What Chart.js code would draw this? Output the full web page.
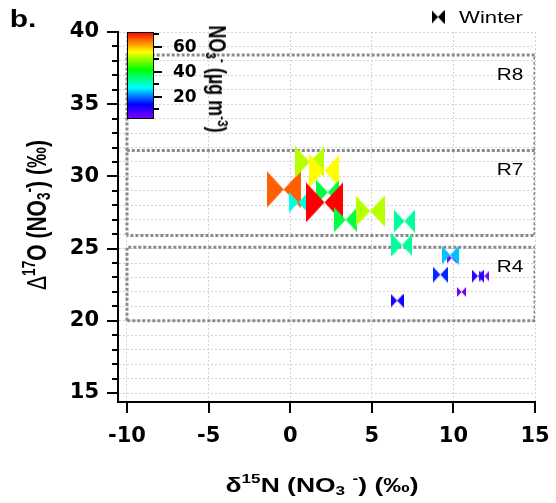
<!DOCTYPE html>
<html><head><meta charset="utf-8">
<script src="https://cdn.jsdelivr.net/npm/chart.js@4"></script>
<style>
html,body{margin:0;padding:0;background:#fff;}
#wrap{position:relative;width:556px;height:503px;overflow:hidden;}
#c{position:absolute;left:0;top:0;}
.t{position:absolute;font-family:"Liberation Sans",Arial,sans-serif;color:#000;white-space:nowrap;line-height:1;}
.b{font-weight:bold;}
sup,sub{font-size:65%;line-height:0;}
sup{vertical-align:0.6em;}
sub{vertical-align:-0.25em;}
</style></head><body>
<div id="wrap">
<canvas id="c" width="556" height="503"></canvas>
<div class="t b" style="left:23px;top:19px;font-size:24px;transform:translate(-50%,-50%) scaleX(1.25);">b.</div>
<div class="t" style="left:491px;top:17px;font-size:17px;transform:translate(-50%,-50%) scaleX(1.3);">Winter</div>
<div class="t b" style="left:322px;top:484px;font-size:21px;transform:translate(-50%,-50%) scaleX(1.26);">δ<sup>15</sup>N (NO<sub>3</sub> <sup>-</sup>) (‰)</div>
<div class="t b" style="left:36px;top:215px;font-size:21px;transform:translate(-50%,-50%) scaleX(1.28) rotate(-90deg);"><span style="font-weight:normal">Δ</span><sup>17</sup>O (NO<sub>3</sub><sup>-</sup>) (‰)</div>
<div class="t b" style="left:217px;top:79px;font-size:18px;transform:translate(-50%,-50%) scaleX(1.3) rotate(90deg);">NO<sub>3</sub><sup>-</sup> (µg m<sup>-3</sup>)</div>
<div class="t" id="r0" style="font-size:16px;transform:translate(-50%,-50%) scaleX(1.3);">R8</div>
<div class="t" id="r1" style="font-size:16px;transform:translate(-50%,-50%) scaleX(1.3);">R7</div>
<div class="t" id="r2" style="font-size:16px;transform:translate(-50%,-50%) scaleX(1.3);">R4</div>
</div>
<script>
// ---- data ----
const d15N = [-0.4, 0.5, 1.2, 2.1, 2.3, 2.1, 3.4, 4.9, 7.0, 6.85, 9.9, 9.8, 9.2, 11.9, 11.5, 10.5, 6.55];
const D17O = [29.1, 28.2, 31.0, 30.4, 28.9, 28.2, 27.0, 27.6, 26.9, 25.25, 24.35, 24.55, 23.2, 23.1, 23.1, 22.0, 21.4];
const NO3  = [66, 29, 52, 56, 38, 72, 38, 52, 33, 33, 4, 24, 16, 4, 10, 3, 12];
const xTicks = [-10, -5, 0, 5, 10, 15];
const yMajorTicks = [15, 20, 25, 30, 35, 40];
const cbarTicks = [20, 40, 60];
const cbarMinorTicks = [10, 30, 50, 70];
const regionNames = ['R8', 'R7', 'R4'];
const regionLow  = [31.8, 25.9, 20.0];
const regionHigh = [38.4, 31.8, 25.1];
const regionX = [-10, 15];
const seriesName = 'Winter';
const cMin = 2, cMax = 72;
const colorStops = [[0,[128,0,255]],[0.17,[0,0,255]],[0.36,[0,255,255]],[0.57,[0,255,0]],[0.77,[255,255,0]],[1,[255,0,0]]];

// ---- helpers ----
function cmap(v){
  let f = (v - cMin) / (cMax - cMin); f = Math.max(0, Math.min(1, f));
  for (let i = 1; i < colorStops.length; i++) {
    if (f <= colorStops[i][0]) {
      const a = colorStops[i-1], b = colorStops[i];
      const t = (f - a[0]) / (b[0] - a[0]);
      const c = a[1].map((x, k) => Math.round(x + (b[1][k] - x) * t));
      return 'rgb(' + c.join(',') + ')';
    }
  }
  return 'rgb(255,0,0)';
}
function bowtie(color, h){
  const w = Math.max(6, Math.round(h * 0.92));
  const cv = document.createElement('canvas');
  cv.width = w; cv.height = h;
  const g = cv.getContext('2d');
  g.fillStyle = color;
  g.beginPath();
  g.moveTo(0, 0); g.lineTo(w / 2, h / 2); g.lineTo(0, h); g.closePath();
  g.moveTo(w, 0); g.lineTo(w / 2, h / 2); g.lineTo(w, h); g.closePath();
  g.fill();
  return cv;
}
function markerSize(v){ return Math.round(9 + 0.43 * v); }

const pts = d15N.map((x, i) => ({x: x, y: D17O[i], c: NO3[i]}));
const markerStyles = pts.map(p => bowtie(cmap(p.c), markerSize(p.c)));

const regionSets = regionNames.map((n, i) => {
  const lo = regionLow[i], hi = regionHigh[i];
  const shared = regionHigh.some((h, j) => j !== i && Math.abs(h - lo) < 1e-9);
  const data = [{x: regionX[0], y: lo}, {x: regionX[0], y: hi}, {x: regionX[1], y: hi}, {x: regionX[1], y: lo}];
  if (!shared) data.push({x: regionX[0], y: lo});
  return {
    label: n, data: data,
    showLine: true, borderColor: '#8a8a8a', borderWidth: 3, borderDash: [3, 2],
    pointRadius: 0, fill: false, tension: 0
  };
});

const Y_AXIS_PX = 118, X_AXIS_PX = 402, RIGHT_PAD = 21;

const extras = {
  id: 'extras',
  afterDraw(chart){
    const ctx = chart.ctx, xs = chart.scales.x, ys = chart.scales.y;
    ctx.save();
    ctx.strokeStyle = '#000'; ctx.lineWidth = 2;
    for (let v = 15; v <= 40; v++) {
      const py = Math.round(ys.getPixelForValue(v));
      const len = yMajorTicks.includes(v) ? 11 : 6;
      ctx.beginPath(); ctx.moveTo(ys.right, py); ctx.lineTo(ys.right - len, py); ctx.stroke();
    }
    xTicks.forEach(v => {
      const px = Math.round(xs.getPixelForValue(v));
      ctx.beginPath(); ctx.moveTo(px, xs.top); ctx.lineTo(px, xs.top + 11); ctx.stroke();
    });
    const x0 = 127, x1 = 154, y0 = 32, y1 = 119;
    const grad = ctx.createLinearGradient(0, y1, 0, y0);
    colorStops.forEach(s => grad.addColorStop(s[0], 'rgb(' + s[1].join(',') + ')'));
    ctx.fillStyle = grad; ctx.fillRect(x0, y0, x1 - x0, y1 - y0);
    ctx.lineWidth = 1; ctx.strokeStyle = '#000';
    ctx.strokeRect(x0 + 0.5, y0 + 0.5, x1 - x0 - 1, y1 - y0 - 1);
    const cy = v => y1 - (v - cMin) / (cMax - cMin) * (y1 - y0);
    ctx.lineWidth = 2;
    ctx.font = 'bold 17px "DejaVu Sans"'; ctx.fillStyle = '#000'; ctx.textBaseline = 'middle'; ctx.textAlign = 'left';
    cbarTicks.forEach(v => {
      const py = Math.round(cy(v));
      ctx.beginPath(); ctx.moveTo(x1, py); ctx.lineTo(x1 + 8, py); ctx.stroke();
      ctx.fillText(String(v), x1 + 19, py + 1);
    });
    cbarMinorTicks.forEach(v => {
      const py = Math.round(cy(v));
      ctx.beginPath(); ctx.moveTo(x1, py); ctx.lineTo(x1 + 5, py); ctx.stroke();
    });
    const lm = bowtie('#000', 14);
    ctx.drawImage(lm, 438 - lm.width / 2, 17 - lm.height / 2);
    ctx.restore();
    regionNames.forEach((n, i) => {
      const el = document.getElementById('r' + i);
      const top = ys.getPixelForValue(regionHigh[i]);
      el.style.left = '510px';
      el.style.top = (top + 20) + 'px';
    });
  }
};

new Chart(document.getElementById('c'), {
  type: 'scatter',
  data: {
    datasets: [{
      label: seriesName,
      data: pts,
      pointStyle: markerStyles,
      pointRadius: 10,
      showLine: false
    }].concat(regionSets)
  },
  options: {
    responsive: false, animation: false, events: [],
    layout: {padding: {left: 0, top: 32, right: RIGHT_PAD, bottom: 0}},
    plugins: {legend: {display: false}, tooltip: {enabled: false}},
    scales: {
      x: {
        type: 'linear', min: -10.55, max: 15,
        afterBuildTicks: s => { s.ticks = xTicks.map(v => ({value: v})); },
        afterFit: s => { s.height = 503 - X_AXIS_PX; s.paddingRight = 0; s.paddingLeft = 0; },
        grid: {color: '#d4d4d4', lineWidth: 1, drawTicks: false},
        border: {color: '#000', width: 2, dash: [2, 2]},
        ticks: {font: {family: 'DejaVu Sans', weight: 'bold', size: 21}, color: '#000', padding: 22, maxRotation: 0, autoSkip: false}
      },
      y: {
        type: 'linear', min: 14.377, max: 40,
        afterBuildTicks: s => { const t = []; for (let v = 15; v <= 40; v++) t.push({value: v}); s.ticks = t; },
        afterFit: s => { s.width = Y_AXIS_PX; s.paddingTop = 0; s.paddingBottom = 0; },
        grid: {color: '#d4d4d4', lineWidth: 1, drawTicks: false},
        border: {color: '#000', width: 2, dash: [2, 2]},
        ticks: {font: {family: 'DejaVu Sans', weight: 'bold', size: 21}, color: '#000', padding: 19, autoSkip: false,
          callback: v => yMajorTicks.includes(v) ? String(v) : ''}
      }
    }
  },
  plugins: [extras]
});
</script>
</body></html>
